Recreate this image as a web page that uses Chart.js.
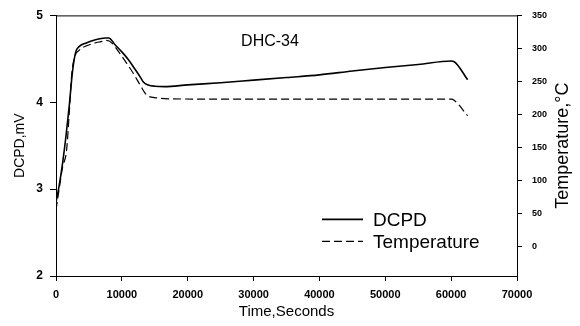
<!DOCTYPE html>
<html>
<head>
<meta charset="utf-8">
<script src="https://cdn.jsdelivr.net/npm/chart.js@4/dist/chart.umd.min.js"></script>
<style>
  html, body { margin: 0; padding: 0; background: #fff; }
  canvas { display: block; }
</style>
</head>
<body>
<canvas id="chart" width="580" height="326"></canvas>
<script>
// DCPD signal (mV) vs time (s)
const TIME_DCPD = [0, 500, 1000, 1500, 2000, 2500, 3000, 3500, 4500, 6000, 7500, 8000, 9000, 10000, 11000, 12000, 12800, 13300, 14000, 15000, 16500, 20000, 25000, 30000, 35000, 40000, 45000, 50000, 55000, 60000, 60400, 62500];
const DCPD_MV   = [2.85, 3.05, 3.3, 3.6, 3.95, 4.35, 4.58, 4.64, 4.68, 4.72, 4.74, 4.74, 4.66, 4.58, 4.49, 4.38, 4.29, 4.23, 4.2, 4.185, 4.18, 4.2, 4.225, 4.255, 4.285, 4.315, 4.36, 4.4, 4.435, 4.475, 4.47, 4.26];

// temperature (°C) vs time (s)
const TIME_TEMP = [0, 600, 1000, 1600, 2000, 2400, 2900, 3500, 4200, 5500, 6700, 7700, 8500, 9500, 10760, 12000, 12800, 13800, 15300, 17000, 30000, 45000, 60000, 60500, 62500];
const TEMP_C    = [55, 95, 120, 145, 200, 262, 289, 297, 302, 307, 310, 312, 308, 295, 277, 258, 244, 229, 225, 223.5, 223, 223, 223, 221, 198];

const TEMP_TICKS = [0, 50, 100, 150, 200, 250, 300, 350];
const SERIES_LABELS = ['DCPD', 'Temperature'];
const SPECIMEN = 'DHC-34';

const FONT = "'Liberation Sans', Arial, sans-serif";
Chart.defaults.font.family = FONT;
Chart.defaults.color = '#000';

const toPoints = (xs, ys) => xs.map((x, i) => ({ x, y: ys[i] }));

const overlayPlugin = {
  id: 'overlay',
  afterDraw(chart) {
    const { ctx, chartArea: a } = chart;
    ctx.save();
    // top frame line
    ctx.strokeStyle = '#000';
    ctx.lineWidth = 1;
    ctx.beginPath();
    ctx.moveTo(a.left, a.top + 0.5);
    ctx.lineTo(a.right, a.top + 0.5);
    ctx.stroke();

    // specimen label
    ctx.fillStyle = '#000';
    ctx.font = '16px ' + FONT;
    ctx.textAlign = 'center';
    ctx.textBaseline = 'middle';
    ctx.fillText(SPECIMEN, a.left + 214, a.top + 26);

    // legend
    const lx = a.left + 266, ly = a.top + 204;
    ctx.font = '19px ' + FONT;
    ctx.textAlign = 'left';
    chart.data.datasets.forEach((ds, i) => {
      const y = ly + i * 22;
      ctx.setLineDash(ds.borderDash || []);
      ctx.lineWidth = ds.borderWidth;
      ctx.beginPath();
      ctx.moveTo(lx, y);
      ctx.lineTo(lx + 41, y);
      ctx.stroke();
      ctx.setLineDash([]);
      ctx.fillText(ds.label, lx + 51, y + 1);
    });

    // right axis title, reading bottom to top
    ctx.font = '18px ' + FONT;
    ctx.textAlign = 'center';
    ctx.translate(chart.width - 17, (a.top + a.bottom) / 2);
    ctx.rotate(-Math.PI / 2);
    ctx.fillText('Temperature,°C', 0, 0);
    ctx.restore();
  }
};

new Chart(document.getElementById('chart'), {
  type: 'scatter',
  data: {
    datasets: [
      {
        label: SERIES_LABELS[0], data: toPoints(TIME_DCPD, DCPD_MV), yAxisID: 'y',
        showLine: true, borderColor: '#000', borderWidth: 1.6, pointRadius: 0, cubicInterpolationMode: 'monotone',
      },
      {
        label: SERIES_LABELS[1], data: toPoints(TIME_TEMP, TEMP_C), yAxisID: 'y1',
        showLine: true, borderColor: '#000', borderWidth: 1.2, borderDash: [8, 4], pointRadius: 0, cubicInterpolationMode: 'monotone',
      },
    ],
  },
  options: {
    responsive: false,
    animation: false,
    layout: { padding: { top: 15, left: 0, right: 0, bottom: 0 } },
    plugins: { legend: { display: false }, tooltip: { enabled: false } },
    scales: {
      x: {
        type: 'linear', min: 0, max: 70000,
        ticks: { stepSize: 10000, padding: 7, font: { size: 11, weight: 'bold' }, callback: v => String(v), maxRotation: 0 },
        grid: { drawOnChartArea: false, tickLength: 5, color: '#000' },
        border: { color: '#000' },
        title: { display: true, text: 'Time,Seconds', font: { size: 15 }, padding: { top: 0, bottom: 5 } },
        afterFit: s => { s.height = 50; },
      },
      y: {
        position: 'left', min: 2, max: 5,
        ticks: { stepSize: 1, padding: 7, font: { size: 12, weight: 'bold' } },
        grid: { drawOnChartArea: false, tickLength: 6, color: '#000' },
        border: { color: '#000' },
        title: { display: true, text: 'DCPD,mV', font: { size: 14 }, padding: { top: 12, bottom: 0 } },
        afterFit: s => { s.width = 56; },
      },
      y1: {
        position: 'right', min: -45, max: 350,
        afterBuildTicks: s => { s.ticks = TEMP_TICKS.map(value => ({ value })); },
        ticks: { padding: 10, font: { size: 9, weight: 'bold' } },
        grid: { drawOnChartArea: false, tickLength: 5, color: '#000' },
        border: { color: '#000' },
        afterFit: s => { s.width = 63; },
      },
    },
  },
  plugins: [overlayPlugin],
});
</script>
</body>
</html>
